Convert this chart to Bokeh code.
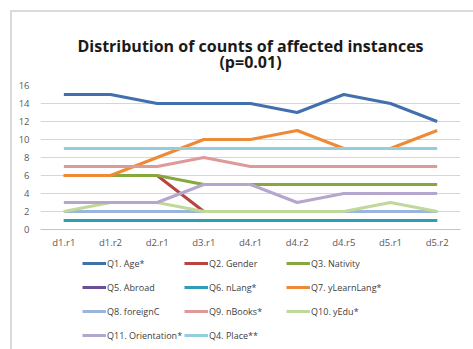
from bokeh.plotting import figure
from bokeh.models import Legend, LegendItem, Title, FixedTicker
from bokeh.layouts import column
from bokeh.embed import file_html
from bokeh.resources import INLINE

# Runs along the x axis
runs = ["d1.r1", "d1.r2", "d2.r1", "d3.r1", "d4.r1", "d4.r2", "d4.r5", "d5.r1", "d5.r2"]

# Counts of affected instances per question
q1_age = [15, 15, 14, 14, 14, 13, 15, 14, 12]
q2_gender = [6, 6, 6, 2, 2, 2, 2, 2, 2]
q3_nativity = [6, 6, 6, 5, 5, 5, 5, 5, 5]
q5_abroad = [1, 1, 1, 1, 1, 1, 1, 1, 1]
q6_nlang = [1, 1, 1, 1, 1, 1, 1, 1, 1]
q7_ylearnlang = [6, 6, 8, 10, 10, 11, 9, 9, 11]
q8_foreignc = [2, 2, 2, 2, 2, 2, 2, 2, 2]
q9_nbooks = [7, 7, 7, 8, 7, 7, 7, 7, 7]
q10_yedu = [2, 3, 3, 2, 2, 2, 2, 3, 2]
q11_orientation = [3, 3, 3, 5, 5, 3, 4, 4, 4]
q4_place = [9, 9, 9, 9, 9, 9, 9, 9, 9]

y_ticks = [0, 2, 4, 6, 8, 10, 12, 14, 16]

series = [
    ("Q1. Age*", q1_age, "#4170ac"),
    ("Q2. Gender", q2_gender, "#b8433f"),
    ("Q3. Nativity", q3_nativity, "#86a83e"),
    ("Q5. Abroad", q5_abroad, "#6d4f95"),
    ("Q6. nLang*", q6_nlang, "#2f9db5"),
    ("Q7. yLearnLang*", q7_ylearnlang, "#ee8a35"),
    ("Q8. foreignC", q8_foreignc, "#9cb5dc"),
    ("Q9. nBooks*", q9_nbooks, "#dd9a98"),
    ("Q10. yEdu*", q10_yedu, "#c0d89a"),
    ("Q11. Orientation*", q11_orientation, "#b4a6cc"),
    ("Q4. Place**", q4_place, "#95cde0"),
]

font = "Open Sans"

# ---- main chart ----
p = figure(
    x_range=runs, y_range=(0, 16),
    width=461, height=240,
    output_backend="svg", toolbar_location=None,
    min_border_left=28, min_border_right=13,
    min_border_top=73, min_border_bottom=23,
)
p.x_range.range_padding = 0
p.outline_line_color = None
p.background_fill_color = "white"
p.border_fill_color = "white"

# Two-line title
p.title = Title(text="Distribution of counts of affected instances\n(p=0.01)",
                align="center", text_align="center", text_font=font,
                text_font_size="16px", text_font_style="bold",
                text_color="#1a1a1a", standoff=25, text_line_height=0.75)

for name, vals, color in series:
    p.line(runs, vals, line_color=color, line_width=3)

p.yaxis.ticker = FixedTicker(ticks=y_ticks)
p.yaxis.axis_line_color = None
p.yaxis.major_tick_line_color = None
p.yaxis.minor_tick_line_color = None
p.yaxis.major_tick_out = 0
p.yaxis.major_tick_in = 0
p.yaxis.major_label_text_font = font
p.yaxis.major_label_text_font_size = "9.5px"
p.yaxis.major_label_text_color = "#595959"
p.yaxis.major_label_standoff = 11

p.xaxis.axis_line_color = "#c4c4c4"
p.xaxis.major_tick_line_color = None
p.xaxis.minor_tick_line_color = None
p.xaxis.major_tick_out = 0
p.xaxis.major_tick_in = 0
p.xaxis.major_label_text_font = font
p.xaxis.major_label_text_font_size = "9.5px"
p.xaxis.major_label_text_color = "#595959"
p.xaxis.major_label_standoff = 6

p.xgrid.grid_line_color = None
p.ygrid.grid_line_color = "#d6d6d6"
p.ygrid.grid_line_width = 1

# ---- legend strip below the chart ----
lg = figure(
    width=461, height=97, x_range=(0, 1), y_range=(0, 1),
    output_backend="svg", toolbar_location=None,
    x_axis_location=None, y_axis_location=None,
    min_border=0,
)
lg.grid.visible = False
lg.outline_line_color = None
lg.border_fill_color = "white"

# legend swatches, kept outside the visible range of the strip
swatches = {}
for name, vals, color in series:
    swatches[name] = lg.line(x=[-2, -1], y=[-2, -1], line_color=color, line_width=3)

# three columns, filled column by column
legend_order = [
    "Q1. Age*", "Q5. Abroad", "Q8. foreignC", "Q11. Orientation*",
    "Q2. Gender", "Q6. nLang*", "Q9. nBooks*", "Q4. Place**",
    "Q3. Nativity", "Q7. yLearnLang*", "Q10. yEdu*",
]
legend = Legend(
    items=[LegendItem(label=n, renderers=[swatches[n]]) for n in legend_order],
    ncols=3, orientation="vertical", location=(42, 3),
    label_text_font=font, label_text_font_size="9px", label_text_color="#404040",
    glyph_width=24, glyph_height=6, label_standoff=1, label_width=75,
    spacing=2, padding=0, margin=0, border_line_color=None,
    background_fill_alpha=0, label_height=22,
)
lg.add_layout(legend)

# light frame around the whole chart area
layout = column(p, lg, spacing=0, styles={
    "margin-left": "10px", "margin-top": "10px",
    "border-left": "2px solid #dadada", "border-top": "2px solid #dadada",
})

open("out.html", "w").write(file_html(layout, INLINE))
